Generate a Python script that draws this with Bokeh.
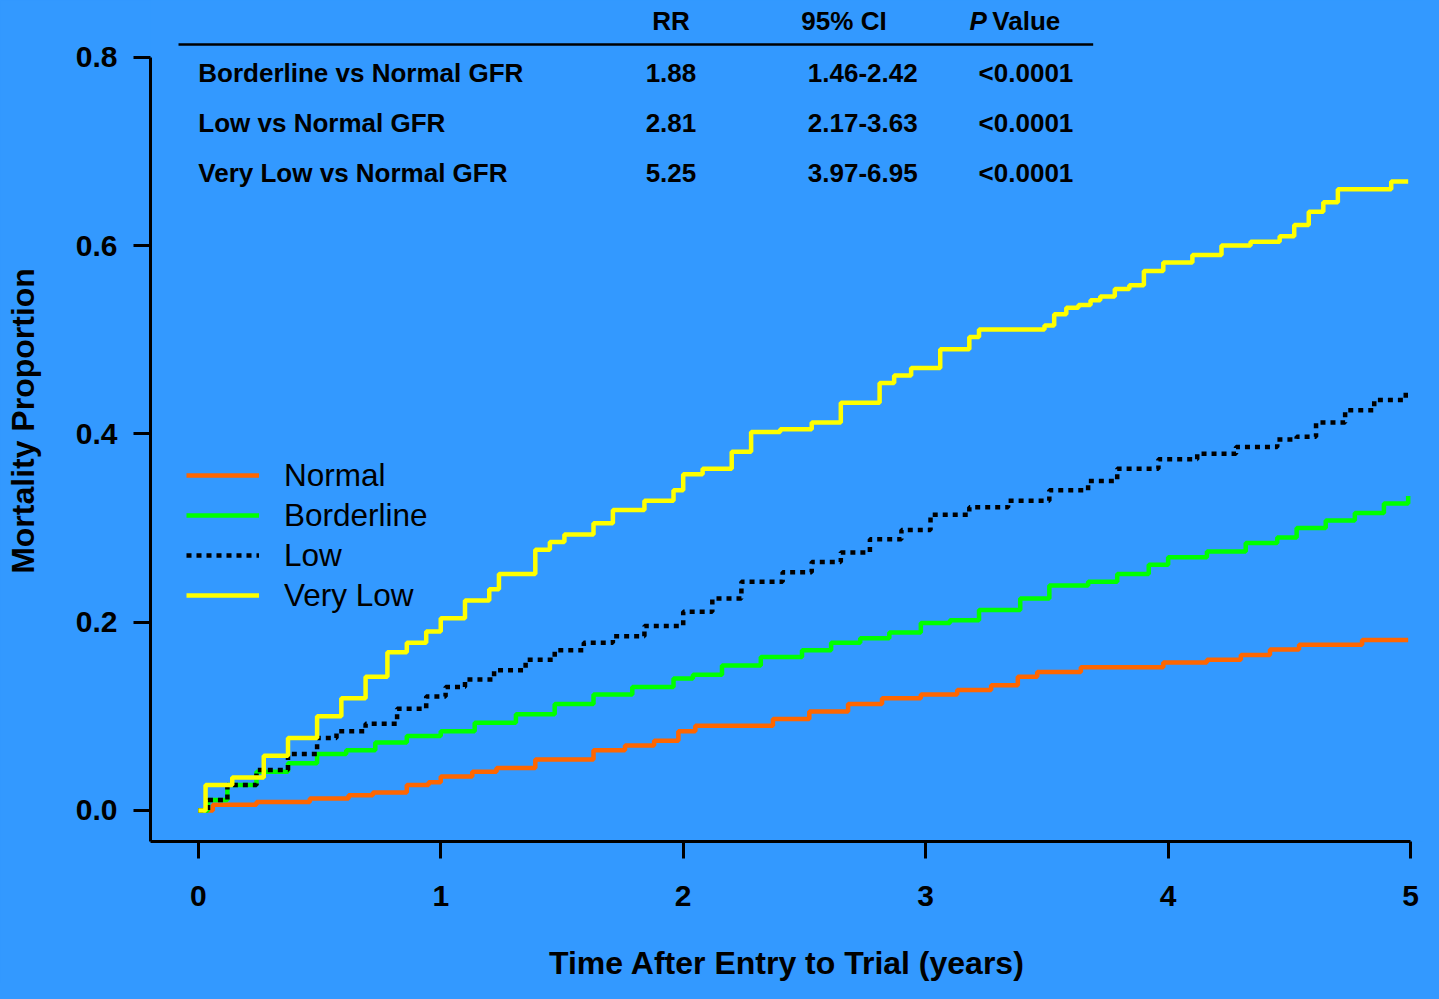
from bokeh.plotting import figure
from bokeh.models import Range1d, FixedTicker, PrintfTickFormatter, Legend, LegendItem
from bokeh.core.properties import value
from bokeh.embed import file_html
from bokeh.resources import INLINE

# ---- data ----
normal_t = [0, 0.06, 0.24, 0.46, 0.62, 0.72, 0.86, 0.95, 1.0, 1.13, 1.23, 1.39, 1.63, 1.76, 1.88, 1.98, 2.05, 2.37, 2.52, 2.68, 2.82, 2.98, 3.13, 3.27, 3.38, 3.46, 3.64, 3.98, 4.16, 4.30, 4.42, 4.54, 4.80, 4.99]
normal_y = [0, 0.006, 0.009, 0.0125, 0.016, 0.019, 0.027, 0.030, 0.036, 0.041, 0.045, 0.054, 0.064, 0.069, 0.074, 0.084, 0.090, 0.097, 0.105, 0.113, 0.119, 0.123, 0.128, 0.133, 0.142, 0.147, 0.152, 0.157, 0.160, 0.165, 0.171, 0.176, 0.181, 0.181]

border_t = [0, 0.04, 0.12, 0.24, 0.37, 0.49, 0.61, 0.73, 0.86, 1.0, 1.14, 1.31, 1.47, 1.63, 1.79, 1.96, 2.04, 2.16, 2.32, 2.49, 2.61, 2.73, 2.85, 2.98, 3.10, 3.22, 3.39, 3.51, 3.67, 3.79, 3.92, 4.0, 4.16, 4.32, 4.45, 4.53, 4.65, 4.77, 4.89, 4.99]
border_y = [0, 0.011, 0.027, 0.041, 0.050, 0.060, 0.064, 0.072, 0.079, 0.084, 0.093, 0.102, 0.113, 0.123, 0.131, 0.140, 0.144, 0.154, 0.163, 0.170, 0.178, 0.183, 0.189, 0.199, 0.202, 0.213, 0.225, 0.239, 0.243, 0.251, 0.261, 0.269, 0.275, 0.284, 0.290, 0.300, 0.308, 0.316, 0.326, 0.334]

low_t = [0, 0.04, 0.12, 0.24, 0.37, 0.49, 0.57, 0.69, 0.82, 0.94, 1.02, 1.10, 1.22, 1.35, 1.47, 1.59, 1.71, 1.84, 2.0, 2.12, 2.24, 2.41, 2.53, 2.65, 2.77, 2.90, 3.02, 3.18, 3.34, 3.51, 3.67, 3.79, 3.96, 4.12, 4.28, 4.45, 4.53, 4.61, 4.73, 4.85, 4.98]
low_y = [0, 0.011, 0.027, 0.043, 0.060, 0.077, 0.084, 0.092, 0.108, 0.121, 0.131, 0.139, 0.149, 0.160, 0.170, 0.178, 0.185, 0.196, 0.211, 0.225, 0.243, 0.253, 0.264, 0.274, 0.288, 0.298, 0.314, 0.322, 0.329, 0.340, 0.350, 0.363, 0.373, 0.379, 0.386, 0.394, 0.397, 0.412, 0.425, 0.436, 0.447]

vlow_t = [0, 0.03, 0.14, 0.27, 0.37, 0.49, 0.59, 0.69, 0.78, 0.86, 0.94, 1.0, 1.10, 1.20, 1.24, 1.39, 1.45, 1.51, 1.63, 1.71, 1.84, 1.96, 2.0, 2.08, 2.20, 2.28, 2.40, 2.53, 2.65, 2.81, 2.87, 2.94, 3.06, 3.18, 3.22, 3.49, 3.53, 3.58, 3.63, 3.68, 3.72, 3.78, 3.84, 3.90, 3.98, 4.10, 4.22, 4.34, 4.46, 4.52, 4.58, 4.64, 4.70, 4.92, 4.99]
vlow_y = [0, 0.027, 0.035, 0.058, 0.077, 0.100, 0.119, 0.142, 0.168, 0.178, 0.190, 0.204, 0.223, 0.235, 0.251, 0.277, 0.285, 0.293, 0.305, 0.319, 0.329, 0.340, 0.357, 0.363, 0.381, 0.402, 0.405, 0.412, 0.433, 0.454, 0.462, 0.470, 0.490, 0.503, 0.511, 0.515, 0.527, 0.534, 0.537, 0.542, 0.546, 0.554, 0.558, 0.573, 0.582, 0.590, 0.600, 0.604, 0.610, 0.622, 0.636, 0.646, 0.660, 0.668, 0.668]

series_names = ["Normal", "Borderline", "Low", "Very Low"]

table_header = ["RR", "95% CI", "Value"]
table_rows = ["Borderline vs Normal GFR", "Low vs Normal GFR", "Very Low vs Normal GFR"]
rr_vals = ["1.88", "2.81", "5.25"]
ci_vals = ["1.46-2.42", "2.17-3.63", "3.97-6.95"]
p_vals = ["<0.0001", "<0.0001", "<0.0001"]

x_ticks = [0, 1, 2, 3, 4, 5]
y_ticks = [0.0, 0.2, 0.4, 0.6, 0.8]

BG = "#3399FF"
FONT = "Liberation Sans"

p = figure(width=1423, height=983, output_backend="svg", toolbar_location=None,
           x_range=Range1d(-0.1971, 5.0532), y_range=Range1d(-0.03306, 0.8604),
           min_border_left=150, min_border_right=0, min_border_top=0, min_border_bottom=139,
           background_fill_color=BG, border_fill_color=BG, outline_line_color=None)
p.grid.visible = False

# axes
for ax in (p.xaxis[0], p.yaxis[0]):
    ax.axis_line_width = 3
    ax.axis_line_color = "black"
    ax.major_tick_line_width = 3
    ax.major_tick_line_color = "black"
    ax.major_tick_in = 0
    ax.major_tick_out = 17
    ax.minor_tick_line_color = None
    ax.major_label_text_font = FONT
    ax.major_label_text_font_style = "bold"
    ax.major_label_text_font_size = "30px"
    ax.major_label_text_color = "black"
    ax.axis_label_text_font = FONT
    ax.axis_label_text_font_style = "bold"
    ax.axis_label_text_font_size = "32px"
    ax.axis_label_text_color = "black"

p.xaxis.ticker = FixedTicker(ticks=x_ticks)
p.xaxis.formatter = PrintfTickFormatter(format="%d")
p.xaxis.bounds = (-0.1971, 5)
p.xaxis.axis_label = "Time After Entry to Trial (years)"
p.xaxis.major_label_standoff = 27
p.xaxis.axis_label_standoff = 36

p.yaxis.ticker = FixedTicker(ticks=y_ticks)
p.yaxis.formatter = PrintfTickFormatter(format="%.1f")
p.yaxis.bounds = (-0.03306, 0.8)
p.yaxis.axis_label = "Mortality Proportion"
p.yaxis.major_label_standoff = 16
p.yaxis.axis_label_standoff = 32

# curves
r_normal = p.step(normal_t, normal_y, mode="after", line_color="#FF6600", line_width=4.5)
r_border = p.step(border_t, border_y, mode="after", line_color="#00FF00", line_width=4.5)
r_low = p.step(low_t, low_y, mode="after", line_color="black", line_width=4.5, line_dash="5 5")
r_vlow = p.step(vlow_t, vlow_y, mode="after", line_color="#FFFF00", line_width=4.5)

legend = Legend(items=[LegendItem(label=n, renderers=[r]) for n, r in
                       zip(series_names, [r_normal, r_border, r_low, r_vlow])],
                location=(36, 226), glyph_width=73, glyph_height=40, label_height=40,
                spacing=0, padding=0, margin=0, label_standoff=25,
                border_line_color=None, background_fill_alpha=0,
                label_text_font=FONT, label_text_font_size="31.5px", label_text_color="black")
p.add_layout(legend, "center")

# table (positions given in reference-picture pixels, converted to data units)
def sx(px):
    return (px - 200) / 245.2

def sy(py):
    return (826 - py) / 960

row_y = [sy(74), sy(125), sy(176)]
tf = dict(text_font=value(FONT), text_font_style="bold", text_font_size="26px",
          text_color="black", text_baseline="middle")
p.text(x=[sx(200)] * 3, y=row_y, text=table_rows, text_align="left", **tf)
p.text(x=[sx(678)] * 3, y=row_y, text=rr_vals, text_align="center", **tf)
p.text(x=[sx(872)] * 3, y=row_y, text=ci_vals, text_align="center", **tf)
p.text(x=[sx(1037)] * 3, y=row_y, text=p_vals, text_align="center", **tf)
p.text(x=[sx(678), sx(853)], y=[sy(21)] * 2, text=table_header[:2], text_align="center", **tf)
p.text(x=[sx(1003)], y=[sy(21)], text=[table_header[2]], text_align="left", **tf)
p.text(x=[sx(980)], y=[sy(21)], text=["P"], text_align="left",
       text_font=value(FONT), text_font_style="bold italic", text_font_size="26px",
       text_color="black", text_baseline="middle")
p.line(x=[sx(180), sx(1105)], y=[sy(45)] * 2, line_color="black", line_width=2.5)

html = file_html(p, INLINE)
html = html.replace("<head>", "<head><style>html, body { background: #3399FF; }</style>", 1)
open("out.html", "w").write(html)
